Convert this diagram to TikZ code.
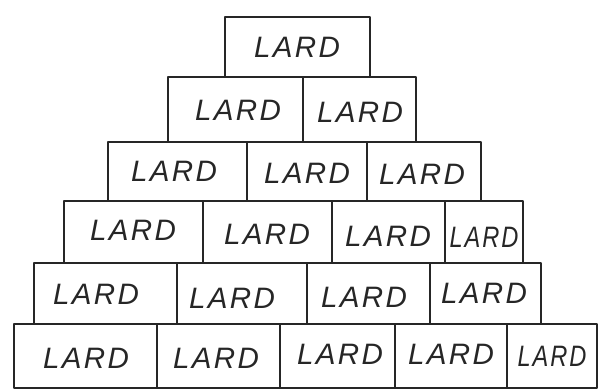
\documentclass[tikz,border=0pt]{standalone}
\usepackage{fontspec}
\newfontfamily\handfont[LetterSpace=8]{Liberation Sans}
\usetikzlibrary{calc}
\tikzset{
  brick/.style={draw=black!85, line width=1.3pt, line join=round},
  lard/.style={font=\handfont\itshape\fontsize{21}{21}\selectfont, text=black!85, inner sep=0pt},
  lardnarrow/.style={lard, xscale=0.8}
}

\begin{document}
\begin{tikzpicture}[x=0.025cm, y=-0.025cm]
\useasboundingbox (0,0) rectangle (600,391);

% top row
\draw[brick] (225,17) rectangle (370,77);
\node[lard] (l11) at (297,47) {LARD};

% second row
\draw[brick] (168,77) rectangle (416,142);
\draw[brick] (303,77) -- (303,142);
\node[lard] (l21) at (238,110) {LARD};
\node[lard] (l22) at (360,112) {LARD};

% third row
\draw[brick] (108,142) rectangle (481,201);
\draw[brick] (247,142) -- (247,201);
\draw[brick] (367,142) -- (367,201);
\node[lard] (l31) at (174,171) {LARD};
\node[lard] (l32) at (307,173) {LARD};
\node[lard] (l33) at (422,174) {LARD};

% fourth row
\draw[brick] (64,201) rectangle (523,263);
\draw[brick] (203,201) -- (203,263);
\draw[brick] (332,201) -- (332,263);
\draw[brick] (445,201) -- (445,263);
\node[lard] (l41) at (133,230) {LARD};
\node[lard] (l42) at (267,234) {LARD};
\node[lard] (l43) at (388,236) {LARD};
\node[lardnarrow] (l44) at (484,237) {LARD};

% fifth row
\draw[brick] (34,263) rectangle (541,324);
\draw[brick] (177,263) -- (177,324);
\draw[brick] (307,263) -- (307,324);
\draw[brick] (430,263) -- (430,324);
\node[lard] (l51) at (96,294) {LARD};
\node[lard] (l52) at (232,298) {LARD};
\node[lard] (l53) at (364,297) {LARD};
\node[lard] (l54) at (484,293) {LARD};

% bottom row
\draw[brick] (14,324) rectangle (597,388);
\draw[brick] (157,324) -- (157,388);
\draw[brick] (280,324) -- (280,388);
\draw[brick] (395,324) -- (395,388);
\draw[brick] (507,324) -- (507,388);
\node[lard] (l61) at (86,358) {LARD};
\node[lard] (l62) at (216,358) {LARD};
\node[lard] (l63) at (340,354) {LARD};
\node[lard] (l64) at (451,354) {LARD};
\node[lardnarrow] (l65) at (552,356) {LARD};
\end{tikzpicture}
\end{document}
